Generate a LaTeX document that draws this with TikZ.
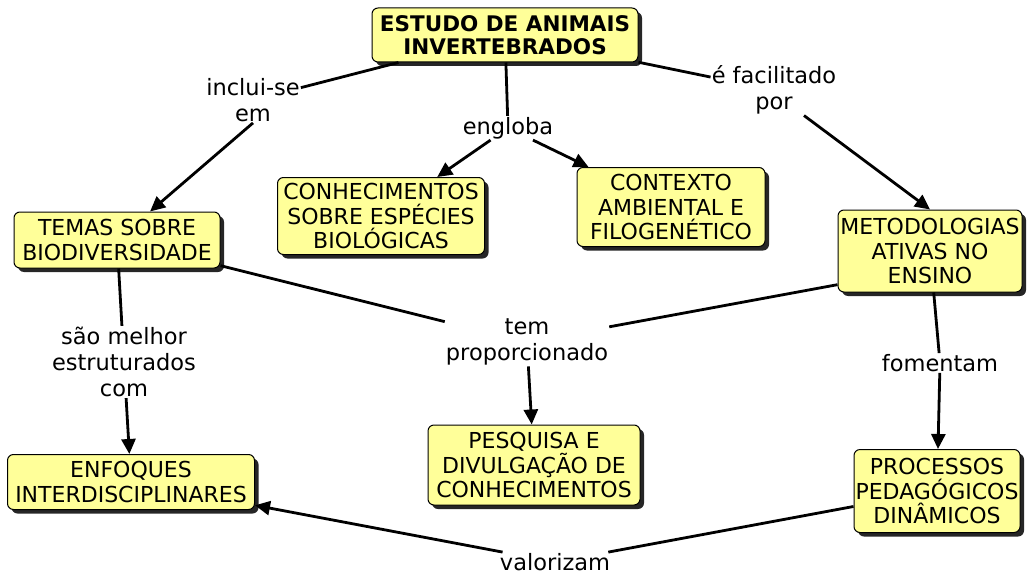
\documentclass[tikz,border=0pt]{standalone}
\usepackage{fontspec}
\setmainfont{DejaVu Sans}
\usetikzlibrary{shadows, arrows.meta}
\definecolor{cmapyellow}{HTML}{FFFF99}

\begin{document}
\begin{tikzpicture}[x=1pt, y=-1pt,
  concept/.style={draw, line width=1pt, rounded corners=6pt, fill=cmapyellow,
    align=center, inner sep=0pt, font=\fontsize{22}{24.5}\selectfont,
    drop shadow={shadow xshift=4pt, shadow yshift=-4pt, fill=black, opacity=0.85}},
  phrase/.style={align=center, inner sep=1pt, font=\fontsize{22.5}{26}\selectfont},
  link/.style={line width=2.8pt},
  arrowlink/.style={line width=2.8pt, -{Triangle[length=15pt, width=14pt]}}]
\useasboundingbox (0,0) rectangle (1027,575);

% concepts
\node[concept, font=\fontsize{21.5}{23}\selectfont\bfseries, minimum width=266pt, minimum height=54pt] (root) at (505,35) {ESTUDO DE ANIMAIS\\INVERTEBRADOS};
\node[concept, minimum width=206pt, minimum height=56pt] (temas) at (117,240) {TEMAS SOBRE\\BIODIVERSIDADE};
\node[concept, minimum width=207pt, minimum height=77pt] (conhec) at (381,216) {CONHECIMENTOS\\SOBRE ESPÉCIES\\BIOLÓGICAS};
\node[concept, minimum width=188pt, minimum height=79pt] (contexto) at (671,207) {CONTEXTO\\AMBIENTAL E\\FILOGENÉTICO};
\node[concept, minimum width=184pt, minimum height=82pt] (metod) at (930,251) {METODOLOGIAS\\ATIVAS NO\\ENSINO};
\node[concept, minimum width=247pt, minimum height=55pt] (enf) at (131,482) {ENFOQUES\\INTERDISCIPLINARES};
\node[concept, minimum width=212pt, minimum height=80pt] (pesq) at (534,465) {PESQUISA E\\DIVULGAÇÃO DE\\CONHECIMENTOS};
\node[concept, minimum width=166pt, minimum height=83pt] (proc) at (937,491) {PROCESSOS\\PEDAGÓGICOS\\DINÂMICOS};

% linking phrases
\node[phrase] (inc) at (253,100) {inclui-se\\em};
\node[phrase] (eng) at (508,128) {engloba};
\node[phrase] (fac) at (774,90) {é facilitado\\por};
\node[phrase] (tem) at (527,342) {tem\\proporcionado};
\node[phrase] (sao) at (124,362) {são melhor\\estruturados\\com};
\node[phrase] (fom) at (940,363) {fomentam};
\node[phrase] (val) at (555,562) {valorizam};

% connectors
\draw[link] (root) -- (inc);
\draw[arrowlink] (inc.south) -- (temas);
\draw[link] (root) -- (eng);
\draw[arrowlink] (eng) -- (conhec);
\draw[arrowlink] (eng) -- (contexto);
\draw[link] (root) -- (fac);
\draw[arrowlink] ([xshift=30pt]fac.south) -- (metod.north);
\draw[link] (temas) -- (tem);
\draw[link] (metod.200) -- (tem);
\draw[arrowlink] (tem) -- (pesq);
\draw[link] (temas) -- (sao);
\draw[arrowlink] (sao) -- (enf);
\draw[link] (metod) -- (fom);
\draw[arrowlink] (fom) -- (proc);
\draw[link] (proc) -- (val);
\draw[arrowlink] (val) -- (enf);
\end{tikzpicture}
\end{document}
